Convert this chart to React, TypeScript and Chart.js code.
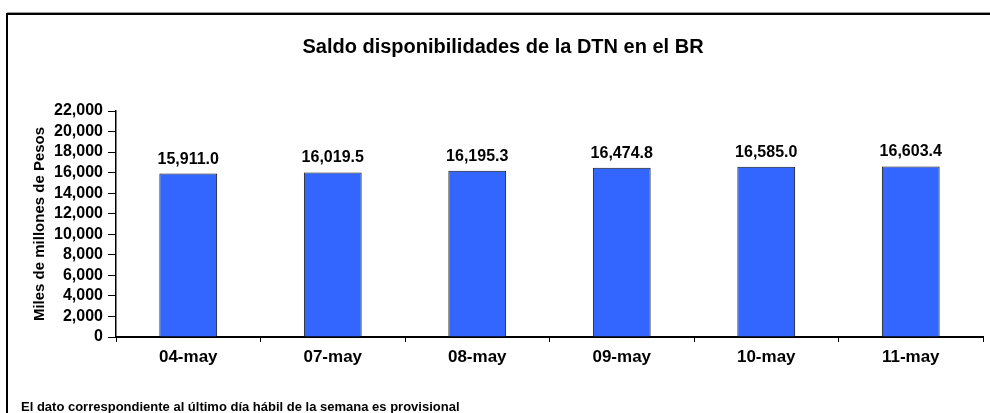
import React, { useEffect, useRef } from "react";
import { Chart, registerables } from "chart.js";

Chart.register(...registerables);

const categories = ["04-may", "07-may", "08-may", "09-may", "10-may", "11-may"];
const values = [15911.0, 16019.5, 16195.3, 16474.8, 16585.0, 16603.4];
const yMax = 22000;
const yStep = 2000;
const title = "Saldo disponibilidades de la DTN en el BR";
const yTitle = "Miles de millones de Pesos";
const footnote = "El dato correspondiente al último día hábil de la semana es provisional";

const FONT = "'Liberation Sans', Arial, sans-serif";

const fmt = (v: number, d: number) =>
  v.toLocaleString("en-US", { minimumFractionDigits: d, maximumFractionDigits: d });

const framePlugin = {
  id: "frame",
  beforeDraw(chart: any) {
    const ctx = chart.ctx;
    ctx.save();
    ctx.fillStyle = "#ffffff";
    ctx.fillRect(0, 0, chart.width, chart.height);
    ctx.strokeStyle = "#999999";
    ctx.lineWidth = 1;
    ctx.beginPath();
    ctx.moveTo(7, 12.5);
    ctx.lineTo(chart.width + 5, 12.5);
    ctx.stroke();
    ctx.strokeStyle = "#000000";
    ctx.lineWidth = 2;
    ctx.strokeRect(7, 14, chart.width + 20, chart.height + 20);
    ctx.restore();
  },
  afterDraw(chart: any) {
    const ctx = chart.ctx;
    ctx.save();
    ctx.fillStyle = "#000000";
    ctx.textAlign = "center";
    ctx.textBaseline = "middle";
    ctx.font = `bold 20px ${FONT}`;
    ctx.fillText(title, 503, 47);
    ctx.textAlign = "left";
    ctx.font = `bold 13px ${FONT}`;
    ctx.fillText(footnote, 21, 407);
    // data labels
    const meta = chart.getDatasetMeta(0);
    ctx.textAlign = "center";
    ctx.textBaseline = "alphabetic";
    ctx.font = `bold 16px ${FONT}`;
    meta.data.forEach((bar: any, i: number) => {
      ctx.fillText(fmt(values[i], 1), bar.x, bar.y - 10);
    });
    ctx.restore();
  },
};

export default function App() {
  const ref = useRef<HTMLCanvasElement>(null);
  useEffect(() => {
    if (!ref.current) return;
    const chart = new Chart(ref.current, {
      type: "bar",
      data: {
        labels: categories,
        datasets: [
          {
            data: values,
            backgroundColor: "#3366FF",
            borderColor: "#111111",
            borderWidth: 1,
            barPercentage: 0.4,
            categoryPercentage: 1,
          },
        ],
      },
      options: {
        animation: false,
        responsive: false,
        maintainAspectRatio: false,
        layout: { padding: { left: 0, top: 111, right: 7, bottom: 0 } },
        plugins: {
          legend: { display: false },
          tooltip: { enabled: false },
          title: { display: false },
        },
        scales: {
          x: {
            offset: true,
            grid: {
              offset: true,
              drawOnChartArea: false,
              drawTicks: true,
              tickLength: 5,
              color: "#000000",
              lineWidth: 1,
            },
            border: { display: true, color: "#000000", width: 2 },
            ticks: {
              color: "#000000",
              padding: 5,
              font: { family: FONT, size: 17, weight: "bold" },
              maxRotation: 0,
              autoSkip: false,
            },
            afterFit(scale: any) {
              scale.height = 76;
            },
          },
          y: {
            min: 0,
            max: yMax,
            grid: {
              drawOnChartArea: false,
              drawTicks: true,
              tickLength: 8,
              color: "#000000",
              lineWidth: 1,
            },
            border: { display: true, color: "#000000", width: 1.5 },
            ticks: {
              stepSize: yStep,
              autoSkip: false,
              color: "#000000",
              padding: 5,
              font: { family: FONT, size: 16, weight: "bold" },
              callback: (v: any) => fmt(Number(v), 0),
            },
            title: {
              display: true,
              text: yTitle,
              color: "#000000",
              font: { family: FONT, size: 15, weight: "bold" },
              padding: { top: 31, bottom: 0 },
            },
            afterFit(scale: any) {
              scale.width = 116;
            },
          },
        },
      },
      plugins: [framePlugin],
    });
    return () => chart.destroy();
  }, []);
  return (
    <div style={{ position: "fixed", left: 0, top: 0, width: 990, height: 413 }}>
      <canvas ref={ref} width={990} height={413} style={{ display: "block" }} />
    </div>
  );
}
